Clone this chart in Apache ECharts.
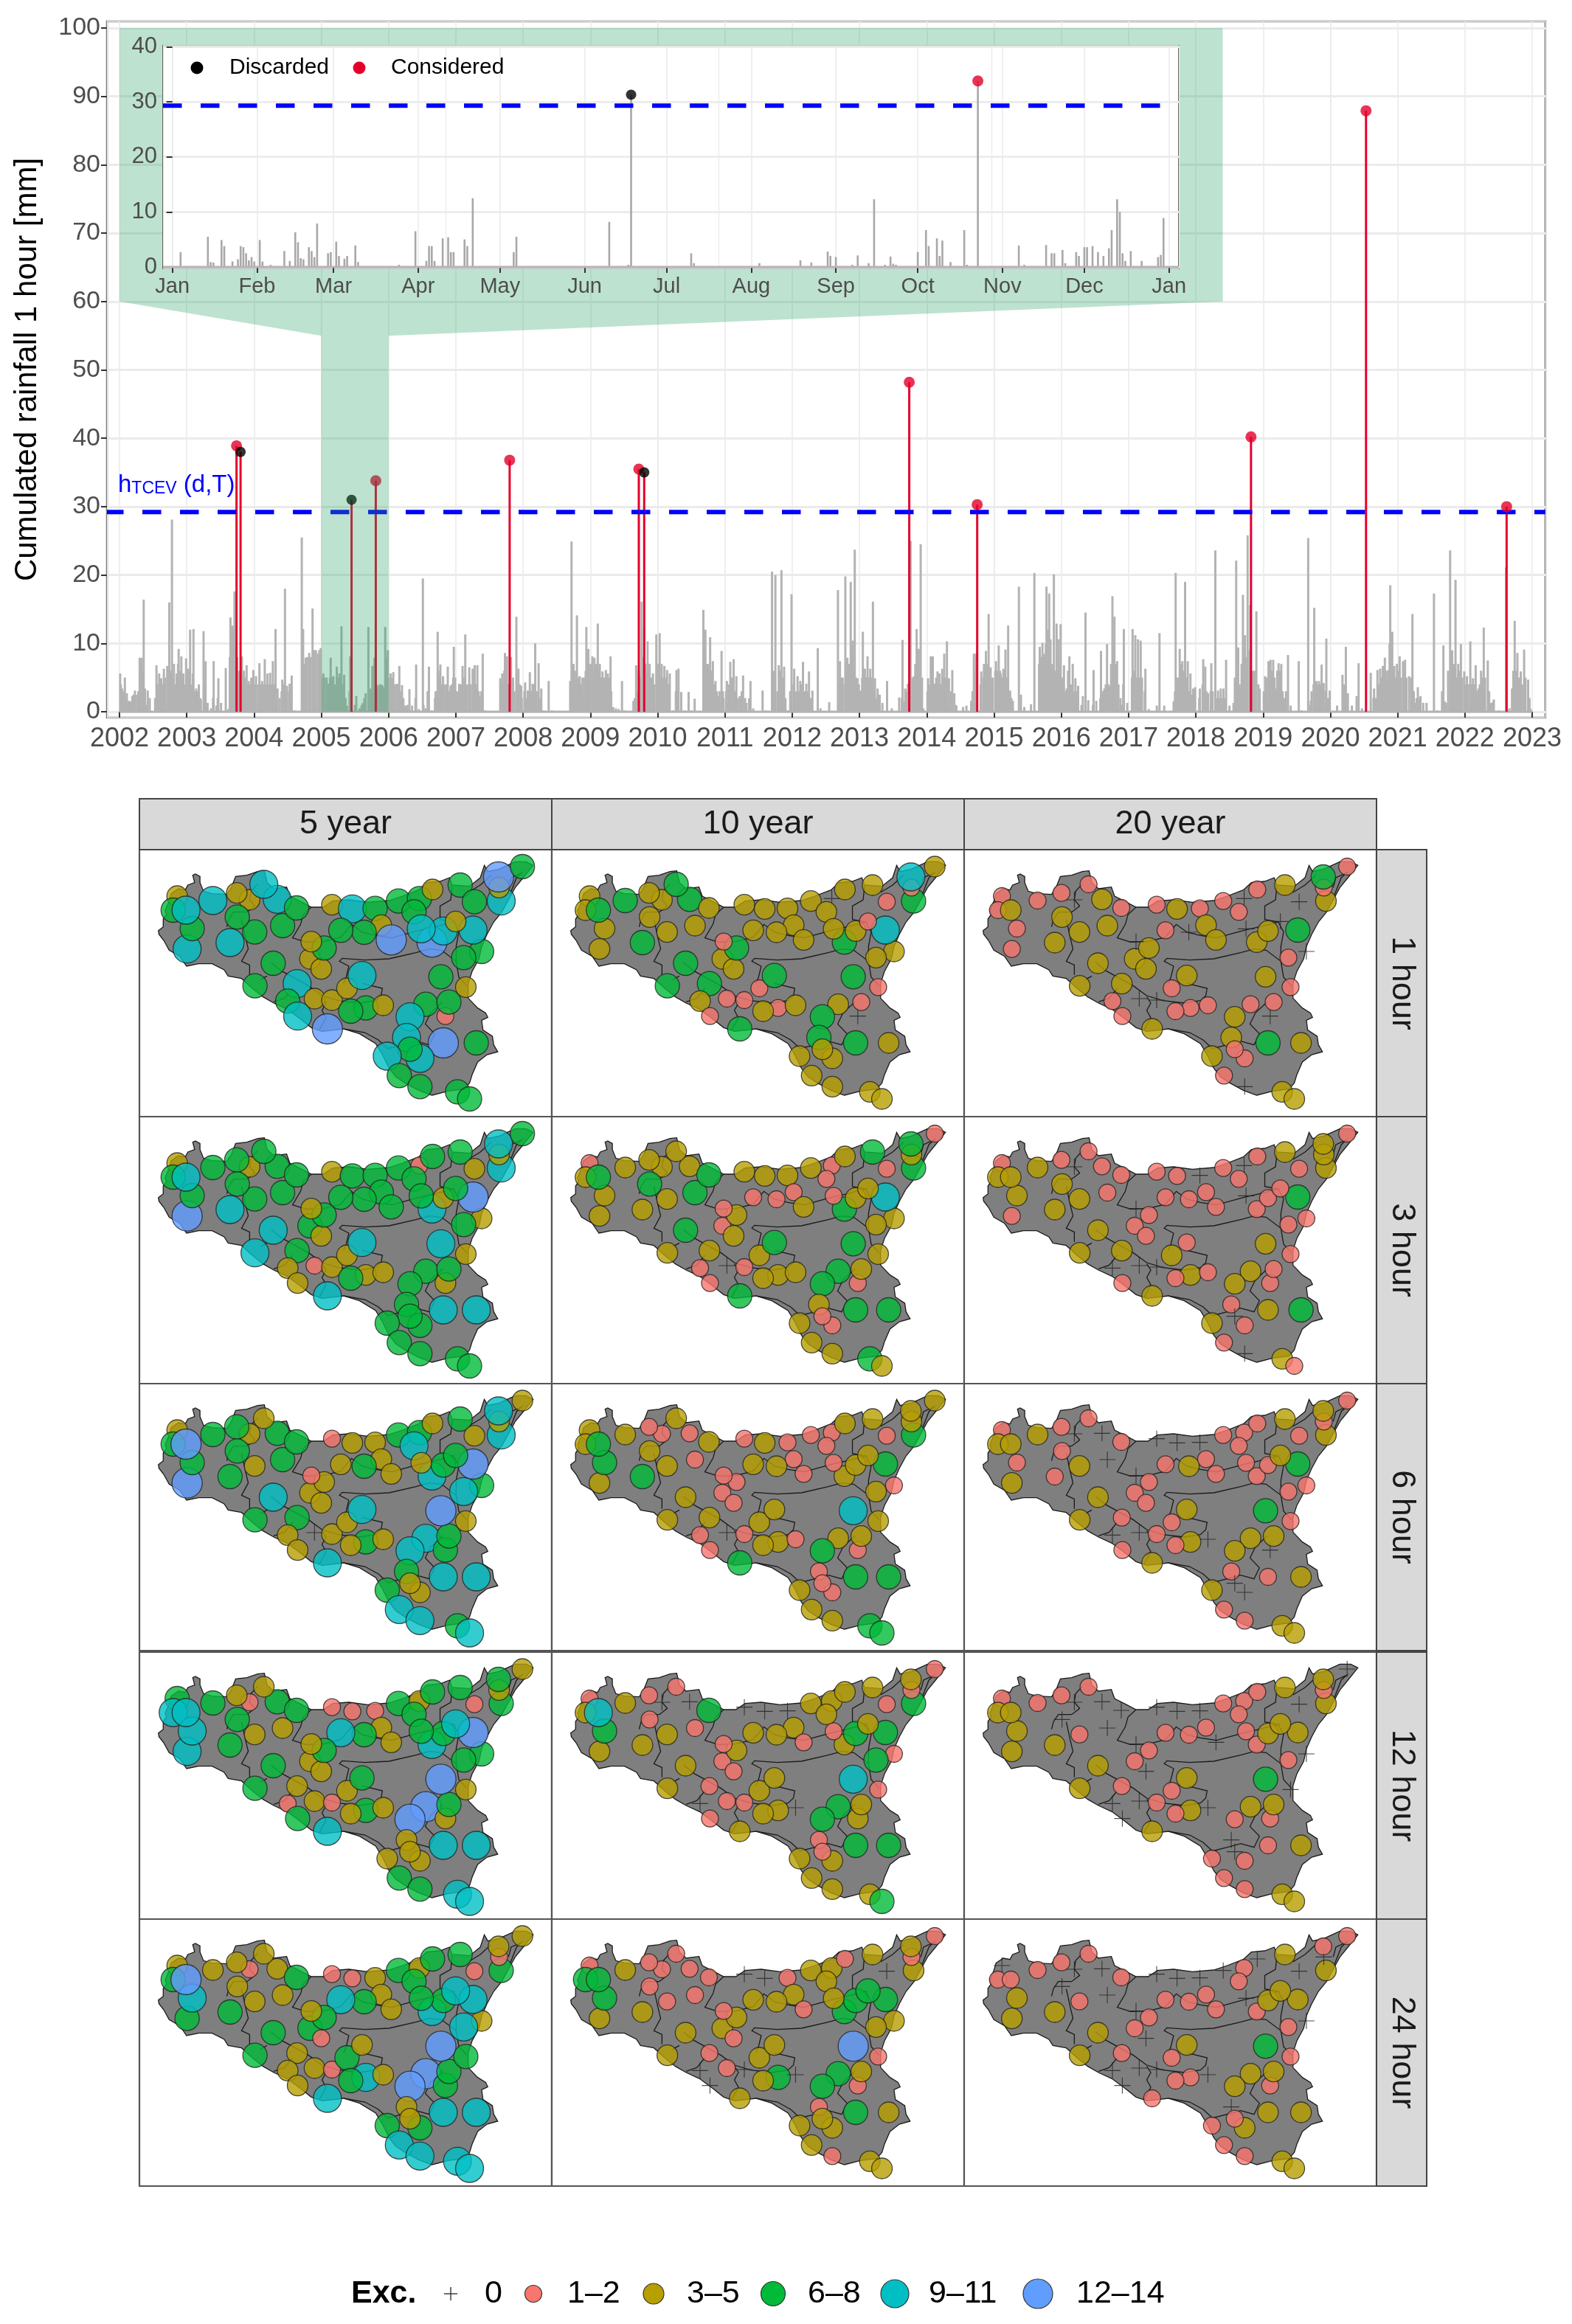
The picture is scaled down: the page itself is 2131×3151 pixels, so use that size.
<!DOCTYPE html>
<html><head><meta charset="utf-8">
<style>html,body{margin:0;padding:0;background:#fff}#c{width:2131px;height:3151px}</style>
<script src="https://cdn.jsdelivr.net/npm/echarts@6/dist/echarts.min.js"></script>
</head><body><div id="c"></div>
<script>
// ---------- main series: daily rainfall spikes per year [fraction of year, mm]
const r2002=[[.01,5.6],[.04,3.4],[.08,5],[.11,2.7],[.14,1.6],[.19,2.3],[.23,3.1],[.26,2.5],[.3,7.9],[.33,7.9],[.36,16.4],[.38,3.4],[.42,3.1],[.45,2],[.55,6.8],[.59,5.6],[.62,4.9],[.66,6.3],[.71,6.7],[.74,16],[.78,28.1],[.81,7],[.85,5.6],[.88,9.2],[.92,8.1],[.95,5.6],[.99,7.8]];
const r2003=[[.02,6.3],[.05,12],[.09,5.6],[.1,12.1],[.14,3.4],[.18,4],[.21,1.8],[.25,11.8],[.28,7.4],[.31,1.3],[.36,.5],[.4,7.4],[.44,.9],[.47,4.9],[.51,1.3],[.58,6.4],[.62,.4],[.65,13.8],[.68,12.6],[.71,17.6],[.75,8],[.82,8.1],[.85,6],[.89,6.8],[.92,4.5],[.96,5],[.99,6.1]];
const r2004=[[.03,5.2],[.08,7.1],[.12,4.5],[.16,7.7],[.2,5.6],[.24,5.7],[.28,7.4],[.32,12.1],[.35,3.4],[.38,2],[.42,4.7],[.46,18],[.49,3.8],[.53,4.1],[.56,5.3],[.6,.2],[.71,25.5],[.73,12.1],[.77,7.9],[.82,8.6],[.87,15.1],[.9,9],[.95,8.5],[.99,9.3]];
const r2005=[[.03,5.6],[.08,5],[.11,4.1],[.14,7.9],[.18,5.2],[.23,6.6],[.27,5.6],[.3,12.5],[.34,5.4],[.38,.9],[.43,8.1],[.52,2.3],[.57,.5],[.62,1.3],[.66,2.7],[.7,12.4],[.73,3.4],[.76,6.7],[.79,7.9],[.84,3.8],[.91,3.8],[.95,12.4],[.99,9]];
const r2006=[[.03,5.6],[.07,5.8],[.12,4.1],[.16,6.7],[.2,3.9],[.25,.9],[.31,3.3],[.35,.9],[.41,6.9],[.45,.4],[.51,19.5],[.55,.5],[.6,6.6],[.64,.2],[.69,2],[.73,11.7],[.77,6.9],[.81,5.2],[.88,6.6],[.92,3.8],[.97,9.5]];
const r2007=[[.02,2.3],[.05,4.1],[.1,6.7],[.14,11.3],[.2,6.5],[.25,6.3],[.28,6.8],[.32,6.8],[.35,2.3],[.4,8.5],[.43,.2],[.66,4.9],[.69,5.6],[.73,8.6],[.76,8.1],[.82,8],[.85,5],[.9,13.9],[.93,6.3],[.97,3.8]];
const r2008=[[.03,4.3],[.07,3.1],[.1,5.8],[.14,4.1],[.18,10],[.23,7.1],[.27,3.4],[.3,.2],[.38,4.5],[.43,.2],[.7,4.5],[.72,24.9],[.75,7],[.8,14.1],[.84,5.2],[.89,2.7],[.94,12.4],[.97,9.2]];
const r2009=[[.03,8.1],[.06,7.9],[.11,12.9],[.14,7],[.18,5.9],[.23,6.1],[.26,5.6],[.3,8.1],[.34,.7],[.38,.5],[.42,.4],[.47,4.5],[.51,.2],[.64,1.6],[.68,6.8],[.72,6],[.76,16.1],[.8,12.2],[.85,10.3],[.88,7],[.93,5.6],[.98,11.3]];
const r2010=[[.03,11.5],[.06,7],[.1,6.7],[.14,6.1],[.18,5.6],[.23,.2],[.28,6.1],[.31,6.3],[.35,2.9],[.4,.2],[.46,2.9],[.5,.2],[.55,1.9],[.68,14.9],[.71,12],[.75,7],[.78,10.9],[.82,7.4],[.86,4.5],[.9,2.3],[.95,8.9],[.98,2]];
const r2011=[[.03,4.5],[.08,7.3],[.13,7.7],[.17,5.2],[.22,2.3],[.27,5.3],[.32,1.3],[.38,4.5],[.42,.5],[.56,3.1],[.61,.2],[.7,20.5],[.75,20],[.8,6.8],[.84,20.7],[.88,6.6],[.94,.2],[.99,17.2]];
const r2012=[[.03,6.3],[.08,5.2],[.12,4.5],[.16,7.3],[.21,4.1],[.25,5.9],[.3,3.1],[.38,9.3],[.42,.5],[.55,1.4],[.68,17.8],[.71,7.4],[.75,5],[.79,19.8],[.82,7.9],[.87,19],[.9,10.4],[.93,23.7],[.97,4.9]];
const r2013=[[.02,3.1],[.05,11.7],[.08,6.3],[.12,8.1],[.16,6.3],[.2,16.1],[.23,4.9],[.27,3.4],[.3,2.5],[.34,1.3],[.41,4.5],[.48,.5],[.59,2.1],[.64,10.5],[.68,3.4],[.72,4.1],[.76,25],[.81,5.2],[.85,12.1],[.88,9.2],[.91,24.5],[.95,.5]];
const r2014=[[.02,4.9],[.06,8.1],[.09,8.1],[.12,4.1],[.16,5.9],[.19,5.6],[.23,6.3],[.26,8.5],[.3,10.3],[.33,4.9],[.38,6.1],[.41,2.7],[.44,.9],[.54,.7],[.59,.9],[.66,1.6],[.7,8.5],[.73,8.5],[.81,5.9],[.85,7],[.88,8.9],[.92,14.3],[.95,6.5],[.98,5]];
const r2015=[[.03,7.4],[.07,9.7],[.1,5.6],[.14,6.3],[.17,9.1],[.21,12.6],[.24,3.1],[.28,1.6],[.37,18.3],[.4,2.5],[.45,.7],[.55,1.1],[.6,20.3],[.68,9.5],[.72,10.1],[.75,8.5],[.78,18.3],[.82,17.3],[.84,10.6],[.89,20.1],[.93,12.9],[.96,10.6],[.99,12.8]];
const r2016=[[.04,6.8],[.08,3.4],[.12,8.1],[.17,7],[.21,4.9],[.25,3.8],[.32,2.3],[.36,14.5],[.4,1.7],[.48,6.1],[.52,1.6],[.59,8.9],[.64,3.4],[.68,9.9],[.72,3.8],[.76,16.9],[.79,13.9],[.83,7.4],[.88,2],[.93,12.1],[.98,1.3]];
const r2017=[[.06,12.1],[.1,11.2],[.14,10.6],[.18,10.4],[.25,6.3],[.3,.4],[.42,.9],[.46,11.5],[.53,.9],[.68,1.6],[.7,20.3],[.76,9.2],[.8,7.4],[.84,19],[.88,7.4],[.92,5.6],[.96,3.4],[.99,3.6]];
const r2018=[[.06,3.4],[.11,7.7],[.14,6.6],[.18,2.7],[.23,7.1],[.29,23.6],[.33,3.1],[.37,3.4],[.41,3.4],[.45,7.6],[.5,.9],[.56,1.3],[.6,22.1],[.63,9.4],[.66,3.4],[.7,17.1],[.73,11.2],[.77,25.8],[.81,15.6],[.85,6],[.9,14.7],[.95,3.4]];
const r2019=[[.03,5.2],[.08,7.4],[.11,7.6],[.15,7.6],[.19,3.4],[.23,7.1],[.27,7],[.32,2],[.37,8.3],[.41,.9],[.53,7.4],[.57,.2],[.67,25.4],[.71,1.6],[.76,15.2],[.79,4.5],[.83,4.5],[.87,6.9],[.9,4.2],[.94,10.7],[.99,3.1]];
const r2020=[[.1,.9],[.18,5.4],[.23,9.5],[.26,2.7],[.32,.9],[.39,2.3],[.42,7.1],[.47,.5],[.6,5.7],[.65,3.4],[.7,6.1],[.74,6.3],[.78,6.7],[.81,7.9],[.86,6.1],[.89,18.5],[.92,11.7],[.95,6.7],[.99,7]];
const r2021=[[.03,8.1],[.08,7.4],[.11,7.6],[.17,5.2],[.22,14.3],[.26,1.3],[.3,3.6],[.34,2.3],[.38,1.3],[.43,1.3],[.54,17.3],[.59,.2],[.68,9.7],[.72,1.3],[.78,23.6],[.81,9],[.86,19.3],[.9,7],[.94,9.9],[.99,5.9]];
const r2022=[[.03,5.2],[.08,10.3],[.12,4.9],[.16,6.8],[.2,3.4],[.24,6],[.28,12.3],[.34,7.5],[.39,1.3],[.43,1.8],[.5,.2],[.61,21.1],[.66,.5],[.7,3.4],[.74,13.3],[.78,8.6],[.83,5.9],[.88,9.1],[.94,4.7],[.98,.4]];
// lower days read between the spikes, wet spells
const w2002=[[.02,4],[.05,3],[.09,2],[.12,1.5],[.17,1.5],[.21,2.5],[.28,3],[.31,7],[.34,6],[.4,1],[.53,2],[.57,4],[.6,4],[.64,4],[.68,5],[.72,5],[.76,6],[.8,5],[.83,4],[.87,7],[.9,6],[.94,5],[.97,4]];
const w2003=[[.01,5],[.04,6],[.07,4],[.12,3],[.16,3],[.2,2],[.27,4],[.3,1],[.39,2],[.46,2],[.64,8],[.67,10],[.7,12],[.73,9],[.77,6],[.8,5],[.84,5],[.87,5],[.91,4],[.94,4],[.98,4]];
const w2004=[[.02,4],[.06,4],[.1,4],[.14,4],[.18,4],[.22,4],[.26,4],[.3,4],[.34,3],[.41,3],[.45,4],[.48,3],[.52,3],[.55,4],[.72,7],[.75,7],[.79,8],[.84,8],[.88,9],[.92,9],[.97,9]];
const w2005=[[.02,5],[.05,5],[.09,4],[.13,5],[.16,5],[.2,4],[.25,5],[.29,5],[.32,4],[.36,2],[.42,3],[.5,1],[.6,1],[.64,2],[.74,3],[.78,4],[.82,4],[.87,4],[.89,4],[.93,3.5],[.97,8]];
const w2006=[[.02,5],[.05,5],[.09,4],[.14,4],[.18,3],[.22,2],[.28,1],[.4,2],[.52,1],[.58,3],[.7,3],[.74,6],[.76,5],[.79,4],[.83,4],[.86,4],[.9,3],[.94,4],[.96,5],[.99,5]];
const w2007=[[.01,3],[.04,3],[.08,4],[.12,5],[.17,4],[.22,4],[.27,5],[.3,4],[.34,3],[.38,3],[.67,4],[.7,4],[.72,6],[.75,6],[.78,4],[.81,3],[.84,4],[.87,3],[.92,4],[.95,4],[.98,2]];
const w2008=[[.02,3],[.05,2],[.09,3],[.12,3],[.16,4],[.2,3],[.25,2],[.71,4],[.74,5],[.77,6],[.79,5],[.82,5],[.86,4],[.88,5],[.91,5],[.93,6],[.96,7],[.99,7]];
const w2009=[[.02,7],[.05,6],[.08,7],[.1,6],[.13,6],[.16,5],[.2,5],[.22,5],[.25,5],[.28,5],[.31,3],[.66,2],[.7,3],[.74,5],[.78,8],[.82,7],[.84,6],[.87,6],[.9,5],[.92,5],[.95,4]];
const w2010=[[.01,7],[.05,5],[.08,5],[.12,5],[.16,4],[.27,3],[.3,3],[.69,8],[.73,7],[.77,6],[.8,6],[.84,4],[.88,3],[.92,3],[.97,3]];
const w2011=[[.02,3],[.06,4],[.1,5],[.15,3],[.19,2],[.25,3],[.3,2],[.36,2],[.71,3],[.73,6],[.78,3],[.82,6],[.86,5],[.9,2],[.97,3]];
const w2012=[[.02,4],[.05,3],[.1,3],[.14,4],[.19,3],[.23,3],[.28,2],[.69,4],[.73,5],[.76,4],[.81,6],[.84,7],[.89,9],[.92,6],[.95,5],[.99,4]];
const w2013=[[.01,3],[.04,5],[.06,5],[.09,5],[.1,5],[.14,5],[.18,5],[.22,3],[.25,2],[.63,2],[.67,1.5],[.7,3],[.74,4],[.79,5],[.83,7],[.87,5],[.9,6],[.93,5]];
const w2014=[[.01,3],[.04,4],[.08,5],[.11,4],[.14,5],[.18,4],[.21,4],[.25,5],[.28,5],[.32,3],[.36,3],[.43,1],[.68,3],[.71,5],[.72,6],[.8,4],[.84,5],[.87,6],[.9,7],[.94,6],[.97,4]];
const w2015=[[.02,6],[.05,6],[.09,6],[.12,5],[.16,6],[.19,5],[.23,3],[.26,2],[.67,7],[.7,8],[.74,8],[.77,10],[.8,12],[.83,8],[.86,7],[.88,6],[.91,6],[.95,6],[.98,7]];
const w2016=[[.02,5],[.06,3],[.1,6],[.15,4],[.19,3],[.23,3],[.3,1],[.47,1],[.58,2],[.62,3],[.66,4],[.7,4],[.74,7],[.78,10],[.81,7],[.85,4],[.9,1],[.92,4]];
const w2017=[[.05,5],[.08,6],[.12,5],[.16,5],[.2,5],[.24,3],[.67,1.5],[.69,3],[.72,5],[.74,5],[.78,7],[.82,6],[.86,5],[.9,3],[.94,2.5],[.98,3]];
const w2018=[[.05,2],[.1,4],[.13,3],[.16,3],[.22,3],[.25,3],[.31,2],[.35,2],[.4,2],[.43,2],[.58,5],[.62,5],[.65,4],[.68,7],[.72,8],[.75,8],[.8,9],[.83,6],[.88,6],[.93,4]];
const w2019=[[.01,3],[.05,5],[.1,6],[.13,6],[.17,5],[.21,6],[.25,6],[.29,3],[.34,3],[.7,1],[.72,3],[.75,4],[.78,4],[.81,4],[.85,4],[.89,3],[.93,3],[.96,2]];
const w2020=[[.2,4],[.22,3],[.64,2],[.68,2],[.72,4],[.76,5],[.8,6],[.83,6],[.85,5],[.88,10],[.9,8],[.93,6],[.97,5]];
const w2021=[[.02,6],[.05,5],[.09,5],[.13,5],[.2,5],[.24,3],[.28,2],[.32,2],[.66,3],[.7,1.5],[.75,6],[.79,7],[.83,6],[.84,7],[.88,5],[.92,6],[.96,5]];
const w2022=[[.01,4],[.05,4],[.1,4],[.14,4],[.18,3],[.22,4],[.26,5],[.3,5],[.36,3],[.42,1.5],[.72,6],[.76,6],[.8,5],[.85,4],[.9,5],[.96,2]];
const rainYears=[2002,2003,2004,2005,2006,2007,2008,2009,2010,2011,2012,2013,2014,2015,2016,2017,2018,2019,2020,2021,2022];
const rainByYear=[r2002,r2003,r2004,r2005,r2006,r2007,r2008,r2009,r2010,r2011,r2012,r2013,r2014,r2015,r2016,r2017,r2018,r2019,r2020,r2021,r2022];
const wetByYear=[w2002,w2003,w2004,w2005,w2006,w2007,w2008,w2009,w2010,w2011,w2012,w2013,w2014,w2015,w2016,w2017,w2018,w2019,w2020,w2021,w2022];
// events above the threshold
const considered=[[2003.74,38.9],[2005.81,33.8],[2007.8,36.8],[2009.72,35.5],[2013.74,48.2],[2014.75,30.3],[2018.82,40.2],[2020.53,87.9],[2022.62,30]];
const discarded=[[2003.8,38],[2005.45,31],[2009.8,35]];
const thresholdMain=29.2, thresholdInset=29.3;
const yearTicks=[2002,2003,2004,2005,2006,2007,2008,2009,2010,2011,2012,2013,2014,2015,2016,2017,2018,2019,2020,2021,2022,2023];
const yTicks=[0,10,20,30,40,50,60,70,80,90,100];
const yMinor=[5,15,25,35,45,55,65,75,85,95];
const zoomArea=[[2002,100],[2018.4,100],[2018.4,60],[2006,55],[2006,0],[2005,0],[2005,55],[2002,60]];
// inset: year 2005, day of year
const insetBars=[[3,2.7],[13,5.5],[14,.9],[15,.8],[18,4.9],[19,3.8],[22,1],[24,1.4],[25,3.8],[26,3.6],[27,2.5],[28,1.2],[29,1.8],[30,1],[32,4.9],[33,1],[36,.4],[41,2.9],[43,1.1],[45,6.3],[46,4.5],[47,1.6],[48,1.4],[50,3.6],[51,2.9],[52,1.8],[53,7.9],[57,2.5],[58,2.7],[60,4.6],[61,2],[63,1.5],[64,2],[67,3.9],[68,.9],[83,.4],[89,6.5],[93,1.1],[94,3.8],[95,3.8],[96,1.1],[99,5.2],[101,5.4],[102,2.7],[103,2.7],[107,5],[108,3.8],[110,12.5],[125,2.7],[126,5.5],[160,8.2],[167,.4],[190,2.5],[191,.7],[215,.7],[230,1.2],[234,.8],[240,2.8],[241,2],[243,1.8],[249,.4],[251,2.1],[255,.7],[257,12.3],[261,.4],[263,1.9],[264,.6],[265,.4],[273,2.7],[276,6.7],[277,3.8],[280,5.2],[281,2],[282,4.8],[285,.9],[290,6.7],[291,.4],[310,3.9],[312,.4],[320,4],[322,2.5],[323,2.5],[326,3.1],[327,.7],[331,2.7],[332,2],[334,3.6],[335,3.6],[337,3.8],[339,2.7],[341,2],[343,3.4],[344,6.7],[346,12.3],[347,10],[348,2.5],[349,1.1],[351,2.9],[355,1.1],[361,1.8],[362,2.2],[363,8.9]];
const insetConsidered=[[295,33.8]];
const insetDiscarded=[[168,31.3]];
const monthNames=['Jan','Feb','Mar','Apr','May','Jun','Jul','Aug','Sep','Oct','Nov','Dec','Jan'];
const monthDays=[0,31,59,90,120,151,181,212,243,273,304,334,365];
const monthMid=[15.5,45,74.5,105,135.5,166,196.5,227.5,258,288.5,319,349.5];
const insetY=[0,10,20,30,40];
const insetYMinor=[5,15,25,35];
// map: Sicily outline and basin limits, in map units
const sicily=[[90,365],[108,350],[108,318],[120,300],[115,285],[130,245],[138,215],[165,195],[190,200],[200,180],[225,170],[218,140],[228,135],[245,145],[245,170],[258,205],[290,215],[345,218],[362,190],[378,145],[420,140],[460,125],[485,122],[495,170],[520,195],[568,188],[580,225],[625,250],[660,270],[705,270],[740,245],[800,240],[870,250],[950,243],[1000,225],[1060,200],[1090,170],[1140,165],[1175,150],[1185,180],[1250,185],[1290,150],[1305,100],[1318,125],[1360,115],[1420,85],[1460,85],[1487,100],[1450,150],[1420,190],[1395,240],[1370,290],[1340,330],[1315,380],[1295,430],[1285,480],[1260,530],[1245,580],[1245,640],[1280,680],[1310,700],[1318,718],[1295,730],[1300,770],[1335,795],[1340,830],[1355,858],[1315,870],[1280,900],[1260,950],[1250,985],[1230,1010],[1170,1018],[1110,1035],[1060,1015],[1010,985],[975,960],[950,925],[925,870],[900,825],[840,785],[780,765],[745,770],[700,775],[660,760],[620,725],[570,685],[520,660],[480,635],[440,600],[400,560],[350,550],[335,525],[290,500],[240,500],[195,510],[170,470],[130,445],[110,405],[92,380]];
const limits=[
[[345,350],[352,320],[370,290],[420,290],[450,265],[430,240],[435,205],[460,175]],
[[400,320],[415,395],[425,440],[400,490],[430,505],[430,545]],
[[660,270],[630,300],[620,340],[590,395],[640,412],[705,410],[770,392],[810,340],[850,372],[900,385],[960,395],[1060,365],[1120,350],[1190,330],[1140,320],[1140,265],[1180,240],[1185,185]],
[[780,580],[790,555],[800,510],[765,490],[775,478],[860,485],[950,480],[1050,455],[1100,440],[1145,445],[1200,490],[1210,555],[1240,590]],
[[1190,330],[1210,370],[1200,430],[1200,490]],
[[850,580],[925,600],[920,630],[900,650],[840,660],[760,650],[700,630],[650,590],[550,530],[510,495]],
[[495,550],[470,565]],
[[590,600],[560,640],[520,655]],
[[700,635],[715,660],[700,690],[715,720],[690,770]],
[[780,765],[860,780],[910,810],[945,845],[1000,830],[1050,815],[1100,830],[1120,785],[1085,745],[1105,700],[1150,655]],
[[1245,210],[1290,180],[1330,140]],
[[1400,220],[1425,150],[1445,130],[1405,150],[1395,190]]
];
// rain gauges, in map units
const stationX=[160,145,193,216,197,293,382,430,483,533,384,449,553,357,605,737,813,898,985,1063,1112,1043,1215,1358,1447,1360,1368,1268,1263,1198,1152,1110,1070,958,921,857,770,660,708,655,697,518,450,607,849,793,572,672,737,609,720,807,863,928,1028,1087,1173,1236,1228,1295,1143,1160,1152,1275,1015,1028,1065,943,988,1065,1205,1250];
const stationY=[225,282,282,357,440,243,212,240,177,238,310,371,345,414,273,260,277,275,245,235,198,289,180,147,105,190,245,248,363,328,367,412,358,403,343,372,364,410,436,480,521,498,590,581,548,600,652,642,648,713,765,693,680,669,716,665,656,595,475,450,553,713,822,822,800,848,885,876,955,1000,1021,1050];
const drawOrder=[1,2,5,4,3,6,8,7,10,9,12,11,13,14,15,16,17,18,19,20,21,22,23,27,26,24,25,28,60,59,29,32,31,33,35,34,30,36,37,40,41,39,38,42,43,44,47,48,49,46,45,50,51,53,52,54,56,62,57,55,58,61,63,64,65,67,66,68,69,70,71,72];
// exceedance class per gauge: 0 "0", 1 "1-2", 2 "3-5", 3 "6-8", 4 "9-11", 5 "12-14"
const e5_1=[2,3,4,3,4,4,2,2,4,4,3,3,3,4,3,2,4,3,3,3,2,3,3,5,3,2,4,3,4,2,4,5,4,5,2,3,3,2,3,2,2,3,3,4,4,2,3,2,2,4,5,3,3,2,4,3,3,2,3,3,3,1,5,3,4,3,4,4,3,3,3,3];
const e10_1=[2,2,3,2,2,3,2,2,3,3,2,2,2,3,2,2,2,2,2,0,2,2,2,4,2,1,3,1,4,1,2,3,2,2,2,2,2,1,3,2,2,3,3,3,3,1,2,1,1,1,3,2,1,2,3,2,1,1,2,2,3,0,3,2,3,2,2,2,2,2,2,2];
const e20_1=[1,1,2,1,1,1,1,0,1,2,2,2,2,2,1,1,2,1,1,0,1,1,2,3,1,1,2,0,3,0,2,2,0,2,2,0,1,0,2,2,2,2,2,2,2,1,1,0,0,1,2,1,1,1,2,1,1,1,1,0,2,0,3,2,2,1,1,2,1,0,2,2];
const e5_3=[2,3,4,3,5,3,3,2,3,3,3,3,3,4,3,2,3,3,3,1,3,3,3,4,3,2,4,2,5,3,2,4,3,3,3,3,3,2,3,3,2,4,4,3,4,2,2,1,2,2,4,3,2,2,3,3,3,2,3,2,4,2,4,4,3,3,3,3,3,3,3,3];
const e10_3=[1,2,3,2,2,2,2,2,2,2,3,2,3,2,3,2,2,2,2,1,2,1,3,3,1,2,3,1,4,2,2,3,1,2,1,1,1,1,2,1,2,3,2,2,3,2,1,0,1,1,3,2,2,2,3,3,2,2,2,2,3,1,3,3,2,1,1,2,2,2,3,2];
const e20_3=[1,2,2,2,1,2,1,0,1,1,2,2,1,2,1,1,1,0,1,0,1,1,2,2,1,2,2,1,3,1,1,1,0,1,1,1,1,0,1,1,1,2,2,2,1,2,0,0,0,1,2,1,2,1,2,2,1,1,1,1,2,1,2,3,1,0,1,2,1,0,2,1];
const e5_6=[2,3,5,3,5,3,3,2,2,3,3,2,3,3,3,1,2,2,3,3,2,4,3,4,2,2,4,2,5,3,3,4,2,2,2,3,2,1,2,2,2,4,3,3,4,2,2,0,2,2,4,2,3,2,4,4,3,2,4,3,5,3,4,4,3,2,2,3,4,4,3,4];
const e10_6=[2,2,3,3,2,2,1,1,2,1,2,2,1,3,2,1,2,1,1,1,2,1,2,2,2,2,3,1,3,2,2,2,1,1,1,2,2,1,1,1,1,2,2,2,2,2,1,0,1,1,3,2,2,1,3,2,2,2,2,1,4,1,3,3,1,1,1,2,2,2,3,3];
const e20_6=[1,2,2,1,2,2,1,0,1,0,1,2,0,1,1,0,0,0,1,1,1,1,2,2,1,1,2,1,3,2,1,1,1,1,1,2,1,0,1,1,1,2,2,1,2,1,0,0,1,1,2,1,2,0,2,2,2,1,1,1,3,0,1,2,1,0,0,2,1,1,2,2];
const e5_12=[3,4,4,4,4,3,2,1,2,3,3,2,2,3,3,1,1,1,3,2,3,3,3,3,2,2,3,1,5,4,3,4,3,2,2,3,4,2,3,2,2,3,3,2,3,2,1,2,1,3,4,2,3,2,5,5,3,2,3,3,5,2,4,4,2,2,2,2,3,3,4,4];
const e10_12=[1,2,4,3,2,2,1,0,1,0,1,2,1,2,3,0,0,0,2,2,2,2,2,2,1,1,3,1,3,2,3,2,1,1,2,2,2,1,2,1,1,2,2,1,2,2,0,1,1,1,2,2,2,0,3,3,2,1,3,1,4,2,3,3,1,1,2,2,2,2,2,3];
const e20_12=[1,2,2,2,2,1,1,0,1,0,0,1,0,2,0,0,0,0,1,1,1,1,2,2,0,1,2,0,2,2,2,1,1,0,1,1,1,0,1,1,0,2,2,1,2,1,0,0,1,0,2,1,2,0,1,2,2,0,1,0,3,1,1,2,0,0,1,1,1,1,2,2];
const e5_24=[2,3,5,4,3,2,2,1,2,2,2,2,2,3,3,1,1,2,3,2,3,3,3,2,2,1,3,1,4,4,3,4,3,2,2,3,4,2,3,3,1,3,3,2,2,3,2,2,1,2,4,3,4,2,5,5,3,3,4,2,5,3,4,4,2,2,3,3,4,4,4,4];
const e10_24=[1,3,3,3,2,2,1,1,1,1,1,1,1,2,1,0,0,1,2,2,1,2,2,2,1,1,2,0,3,3,3,3,2,1,2,2,2,1,2,2,1,2,2,1,2,2,0,1,0,0,2,2,3,0,3,3,2,1,2,2,5,1,3,2,1,2,2,2,2,1,2,2];
const e20_24=[0,1,1,2,2,1,1,0,1,0,0,1,0,2,1,0,0,0,0,1,0,1,2,1,1,0,2,0,2,2,2,1,0,1,1,1,1,0,1,1,0,2,2,1,2,1,0,0,0,0,1,1,1,0,2,2,2,1,1,0,3,1,2,2,0,1,2,1,1,1,2,2];
const returnPeriods=['5 year','10 year','20 year'];
const durations=['1 hour','3 hour','6 hour','12 hour','24 hour'];
const panelClasses=[[e5_1,e10_1,e20_1],[e5_3,e10_3,e20_3],[e5_6,e10_6,e20_6],[e5_12,e10_12,e20_12],[e5_24,e10_24,e20_24]];
const classLabels=['0','1–2','3–5','6–8','9–11','12–14'];
const classColors=['#222','#F8766D','#B79F00','#00BA38','#00BFC4','#619CFF'];
const classSizes=[22,23,28,33,38,41];

// ---------- layout
const FONT='"Liberation Sans",Arial,sans-serif';
const colX=[189,748,1307], colW=559;
const rowY=[1152,1514,1876,2240,2602], rowH=362;
const PLUS='path://M0 10L20 10M10 0L10 20';
const grid=[],xAxis=[],yAxis=[],series=[];
const sl=(w,c)=>({show:true,lineStyle:{color:c||'#ebebeb',width:w}});

// main grid (0)
grid.push({left:145,top:29,width:1950,height:944,show:true,backgroundColor:'#fff',borderColor:'#6e6e6e',borderWidth:2.5,z:0});
const mainX={min:2001.814,max:2023.197,type:'value',gridIndex:0};
const mainY={min:-0.86,max:100.97,type:'value',gridIndex:0};
xAxis.push({...mainX,axisLine:{show:false},axisTick:{show:true,length:8,lineStyle:{color:'#333',width:2},customValues:yearTicks},
  axisLabel:{fontFamily:FONT,fontSize:36,color:'#4d4d4d',margin:11,customValues:yearTicks,formatter:v=>String(v),hideOverlap:false},
  splitLine:{...sl(1.6),customValues:yearTicks}});
xAxis.push({...mainX,axisLine:{show:false},axisTick:{show:false},axisLabel:{show:false},
  splitLine:{...sl(1.2),customValues:yearTicks.slice(0,-1).map(y=>y+.5)}});
yAxis.push({...mainY,name:'Cumulated rainfall 1 hour [mm]',nameLocation:'middle',nameGap:87,nameTextStyle:{fontFamily:FONT,fontSize:42,color:'#000'},
  axisLine:{show:false},axisTick:{show:true,length:8,lineStyle:{color:'#333',width:2},customValues:yTicks},
  axisLabel:{fontFamily:FONT,fontSize:34,color:'#4d4d4d',margin:9,customValues:yTicks,formatter:v=>String(v)},
  splitLine:{...sl(3),customValues:yTicks}});
yAxis.push({...mainY,axisLine:{show:false},axisTick:{show:false},axisLabel:{show:false},splitLine:{...sl(1.5),customValues:yMinor}});

const rainData=[];
rainYears.forEach((y,i)=>{
  rainByYear[i].forEach(p=>rainData.push([+(y+p[0]).toFixed(3),p[1]]));
  wetByYear[i].forEach(p=>rainData.push([+(y+p[0]).toFixed(3),p[1]]));
});
const events=considered.concat(discarded);
const m={xAxisIndex:0,yAxisIndex:0,silent:true,animation:false};
series.push({...m,type:'line',data:[[2002,0],[2023,0]],showSymbol:false,lineStyle:{color:'#b3b3b3',width:3},z:2});
series.push({...m,type:'bar',name:'rain',data:rainData,barWidth:3,barGap:'-100%',itemStyle:{color:'#b3b3b3'},z:2});
series.push({...m,type:'bar',name:'stems',data:events,barWidth:3,barGap:'-100%',itemStyle:{color:'#E4002B'},z:3});
series.push({...m,type:'line',data:[[2001.814,thresholdMain],[2023.197,thresholdMain]],showSymbol:false,lineStyle:{color:'#0000FF',width:6,type:[25.5,25.5],dashOffset:3},z:4});
series.push({...m,type:'scatter',data:considered,symbolSize:15,itemStyle:{color:'#E4002B'},z:5});
series.push({...m,type:'scatter',data:discarded,symbolSize:14,itemStyle:{color:'#000'},z:5});
series.push({...m,type:'custom',data:[zoomArea[0]],z:6,renderItem:(p,api)=>({type:'polygon',shape:{points:zoomArea.map(q=>api.coord(q))},style:{fill:'rgba(40,160,100,0.3)'}})});

// inset grid (1)
grid.push({left:221,top:62,width:1377,height:302,show:true,backgroundColor:'#fff',borderColor:'#555',borderWidth:2,z:10});
const inX={min:-3.43,max:368.6,type:'value',gridIndex:1,z:11};
const inY={min:-0.27,max:40.2,type:'value',gridIndex:1,z:11};
xAxis.push({...inX,axisLine:{show:false},axisTick:{show:true,length:8,lineStyle:{color:'#333',width:2},customValues:monthDays},
  axisLabel:{fontFamily:FONT,fontSize:29,color:'#4d4d4d',margin:10,customValues:monthDays,formatter:v=>monthNames[monthDays.indexOf(v)]||'',hideOverlap:false},
  splitLine:{...sl(1.6),customValues:monthDays}});
xAxis.push({...inX,axisLine:{show:false},axisTick:{show:false},axisLabel:{show:false},splitLine:{...sl(1.2),customValues:monthMid}});
yAxis.push({...inY,axisLine:{show:false},axisTick:{show:true,length:8,lineStyle:{color:'#333',width:2},customValues:insetY},
  axisLabel:{fontFamily:FONT,fontSize:31,color:'#4d4d4d',margin:8,customValues:insetY,formatter:v=>String(v)},
  splitLine:{...sl(2.6),customValues:insetY}});
yAxis.push({...inY,axisLine:{show:false},axisTick:{show:false},axisLabel:{show:false},splitLine:{...sl(1.5),customValues:insetYMinor}});
const n={xAxisIndex:2,yAxisIndex:2,silent:true,animation:false};
series.push({...n,type:'line',data:[[-3.43,0],[368.6,0]],showSymbol:false,lineStyle:{color:'#b3b3b3',width:3},z:12});
series.push({...n,type:'bar',data:insetBars.concat(insetConsidered,insetDiscarded),barWidth:2.6,itemStyle:{color:'#a8a8a8'},z:12});
series.push({...n,type:'line',data:[[-3.43,thresholdInset],[362,thresholdInset]],showSymbol:false,lineStyle:{color:'#0000FF',width:6,type:[25.5,25.5]},z:13});
series.push({...n,type:'scatter',data:insetConsidered,symbolSize:15,itemStyle:{color:'#E4002B'},z:14});
series.push({...n,type:'scatter',data:insetDiscarded,symbolSize:14,itemStyle:{color:'#000'},z:14});

// small multiples
const graphics=[];
const rect=(x,y,w,h)=>({type:'rect',shape:{x,y,width:w,height:h},style:{fill:'#d9d9d9',stroke:'#444',lineWidth:2},z:1});
rowY.forEach((ry,r)=>colX.forEach((cx,c)=>{
  const gi=grid.length, xi=xAxis.length, yi=yAxis.length;
  grid.push({left:cx,top:ry,width:colW,height:rowH,show:true,backgroundColor:'#fff',borderColor:'#555',borderWidth:2.2});
  xAxis.push({type:'value',gridIndex:gi,min:19.25,max:1556.5,show:false,splitLine:{show:false}});
  yAxis.push({type:'value',gridIndex:gi,min:36,max:1122,inverse:true,show:false,splitLine:{show:false}});
  const ax={xAxisIndex:xi,yAxisIndex:yi,silent:true,animation:false};
  series.push({...ax,type:'custom',data:[sicily[0]],z:2,renderItem:(p,api)=>({type:'group',children:[
    {type:'polygon',shape:{points:sicily.map(q=>api.coord(q))},style:{fill:'#7f7f7f',stroke:'#1a1a1a',lineWidth:1.3}},
    ...limits.map(l=>({type:'polyline',shape:{points:l.map(q=>api.coord(q))},style:{fill:null,stroke:'#1a1a1a',lineWidth:1.3}}))
  ]})});
  const cls=panelClasses[r][c];
  series.push({...ax,type:'scatter',z:3,data:drawOrder.map(k=>{
    const i=k-1, q=cls[i];
    return q===0
      ?{value:[stationX[i],stationY[i]],symbol:PLUS,symbolSize:22,itemStyle:{color:'none',borderColor:'#222',borderWidth:1.1}}
      :{value:[stationX[i],stationY[i]],symbol:'circle',symbolSize:classSizes[q],itemStyle:{color:classColors[q],borderColor:'#222',borderWidth:1.3}};
  })});
}));
// strips
returnPeriods.forEach((t,c)=>{
  graphics.push(rect(colX[c],1083,colW,69));
  graphics.push({type:'text',z:2,style:{text:t,x:colX[c]+colW/2,y:1118,align:'center',verticalAlign:'middle',font:'45px '+FONT,fill:'#1a1a1a'}});
});
durations.forEach((t,r)=>{
  graphics.push(rect(1866,rowY[r],68,rowH));
  graphics.push({type:'text',z:2,x:1900,y:rowY[r]+rowH/2,rotation:-Math.PI/2,style:{text:t,x:0,y:0,align:'center',verticalAlign:'middle',font:'45px '+FONT,fill:'#1a1a1a'}});
});
// threshold label
graphics.push({type:'text',z:50,x:160,y:658,style:{rich:{a:{fontSize:33,fontFamily:FONT,fill:'#0000FF'},b:{fontSize:23,fontFamily:FONT,fill:'#0000FF',padding:[10,0,0,0]}},text:'{a|h}{b|TCEV}{a| (d,T)}',align:'left',verticalAlign:'middle'}});
// inset legend
const dot=(x,y,r,c,stroke)=>({type:'circle',z:50,shape:{cx:x,cy:y,r},style:{fill:c,stroke:stroke||null,lineWidth:1.2}});
const txt=(s,x,y,f,c)=>({type:'text',z:50,style:{text:s,x,y,align:'left',verticalAlign:'middle',font:f,fill:c||'#000'}});
graphics.push(dot(267,92,8.5,'#000'),txt('Discarded',311,92,'30px '+FONT),dot(487,92,8.5,'#E4002B'),txt('Considered',530,92,'30px '+FONT));
// bottom legend
graphics.push(txt('Exc.',476,3110,'bold 43px '+FONT));
graphics.push({type:'line',z:50,shape:{x1:602,y1:3110,x2:620,y2:3110},style:{stroke:'#333',lineWidth:1.4}});
graphics.push({type:'line',z:50,shape:{x1:611,y1:3101,x2:611,y2:3119},style:{stroke:'#333',lineWidth:1.4}});
const legX=[0,723,886,1048,1213,1407], legR=[0,11.5,14,16.5,19,20], legT=[657,769,931,1095,1259,1459];
classLabels.forEach((l,i)=>{
  if(i>0) graphics.push(dot(legX[i],3110,legR[i],classColors[i],'#333'));
  graphics.push(txt(l,legT[i],3110,'43px '+FONT));
});

const chart=echarts.init(document.getElementById('c'),null,{renderer:'canvas',width:2131,height:3151});
chart.setOption({animation:false,backgroundColor:'#fff',grid,xAxis,yAxis,series,graphic:{elements:graphics}});
</script></body></html>
